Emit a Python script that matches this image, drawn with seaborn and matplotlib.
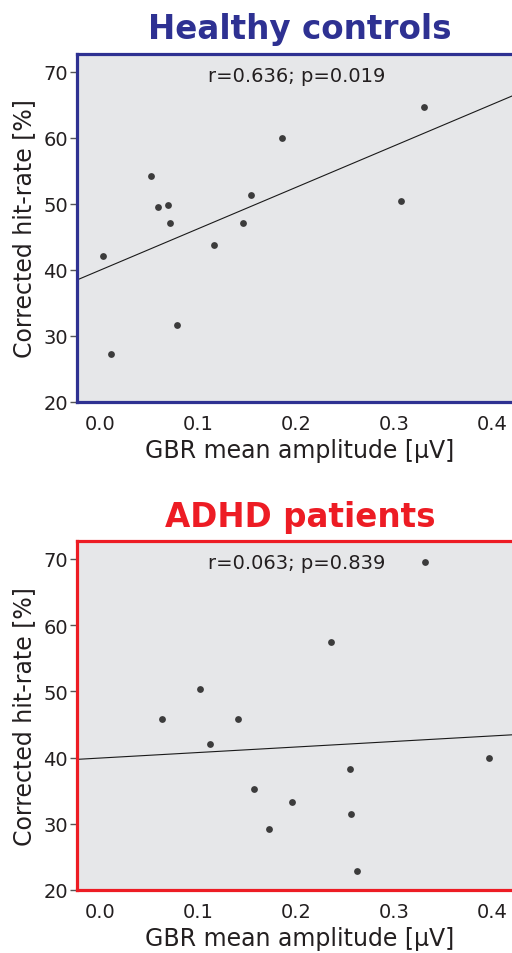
import numpy as np
import pandas as pd
import matplotlib
matplotlib.use("Agg")
import matplotlib.pyplot as plt
import seaborn as sns

# ---- data ----
hc_amp = [0.330, 0.185, 0.052, 0.059, 0.069, 0.071, 0.154, 0.307, 0.145, 0.116, 0.003, 0.078, 0.011]
hc_hit = [64.6, 60.0, 54.3, 49.6, 49.8, 47.1, 51.3, 50.4, 47.1, 43.8, 42.1, 31.6, 27.3]
adhd_amp = [0.331, 0.235, 0.102, 0.063, 0.140, 0.112, 0.396, 0.255, 0.157, 0.195, 0.256, 0.172, 0.262]
adhd_hit = [69.6, 57.4, 50.4, 45.8, 45.8, 42.1, 39.9, 38.3, 35.2, 33.3, 31.5, 29.2, 22.9]

titles = ["Healthy controls", "ADHD patients"]
stats = ["r=0.636; p=0.019", "r=0.063; p=0.839"]
colors = ["#2E3192", "#ED1C24"]
xticks = [0.0, 0.1, 0.2, 0.3, 0.4]
xticklabels = ["0.0", "0.1", "0.2", "0.3", "0.4"]
yticks = [20, 30, 40, 50, 60, 70]
xlabel = "GBR mean amplitude [\u00b5V]"
ylabel = "Corrected hit-rate [%]"

sns.set_style("white")
plt.rcParams["font.family"] = ["DejaVu Sans"]

W, H = 512, 954
fig = plt.figure(figsize=(W / 100, H / 100), dpi=100)

xlim = (-0.024, 0.43)
ylim = (20, 72.7)
axes_px = [(55, 403), (542, 891)]  # top, bottom pixel rows
title_base = [39.5, 527]
left_px = 77
width_px = (xlim[1] - xlim[0]) * 980

datasets = [(hc_amp, hc_hit), (adhd_amp, adhd_hit)]
for i, ((xs, ys), (ytop, ybot)) in enumerate(zip(datasets, axes_px)):
    ax = fig.add_axes([left_px / W, 1 - ybot / H, width_px / W, (ybot - ytop) / H])
    ax.set_facecolor("#E6E7E9")
    ax.set_xlim(*xlim)
    ax.set_ylim(*ylim)
    df = pd.DataFrame({"x": xs, "y": ys})
    sns.regplot(data=df, x="x", y="y", ax=ax, ci=None, truncate=False,
                scatter_kws=dict(s=24, color="#111111", linewidths=0, zorder=3),
                line_kws=dict(color="#1a1a1a", lw=0.8, zorder=2))
    ax.set_xlim(*xlim)
    ax.set_ylim(*ylim)
    for sp in ax.spines.values():
        sp.set_color(colors[i])
        sp.set_linewidth(2.3)
        sp.set_visible(True)
    ax.set_xticks(xticks)
    ax.set_xticklabels(xticklabels)
    ax.set_yticks(yticks)
    ax.tick_params(axis="x", length=0, pad=9, labelsize=14, labelcolor="#231F20")
    ax.tick_params(axis="y", left=True, length=5, width=1, color="#555555",
                   pad=1.5, labelsize=14, labelcolor="#231F20", direction="out")
    ax.set_xlabel(xlabel, fontsize=17, color="#231F20", labelpad=3)
    ax.set_ylabel(ylabel, fontsize=17, color="#231F20", labelpad=5)
    ax.text(0.2, 68.6, stats[i], ha="center", va="baseline",
            fontsize=14, color="#231F20")
    fig.text(300 / W, 1 - title_base[i] / H, titles[i], ha="center", va="baseline",
             fontsize=23.5, fontweight="bold", color=colors[i])

fig.savefig("out.png", dpi=100)
